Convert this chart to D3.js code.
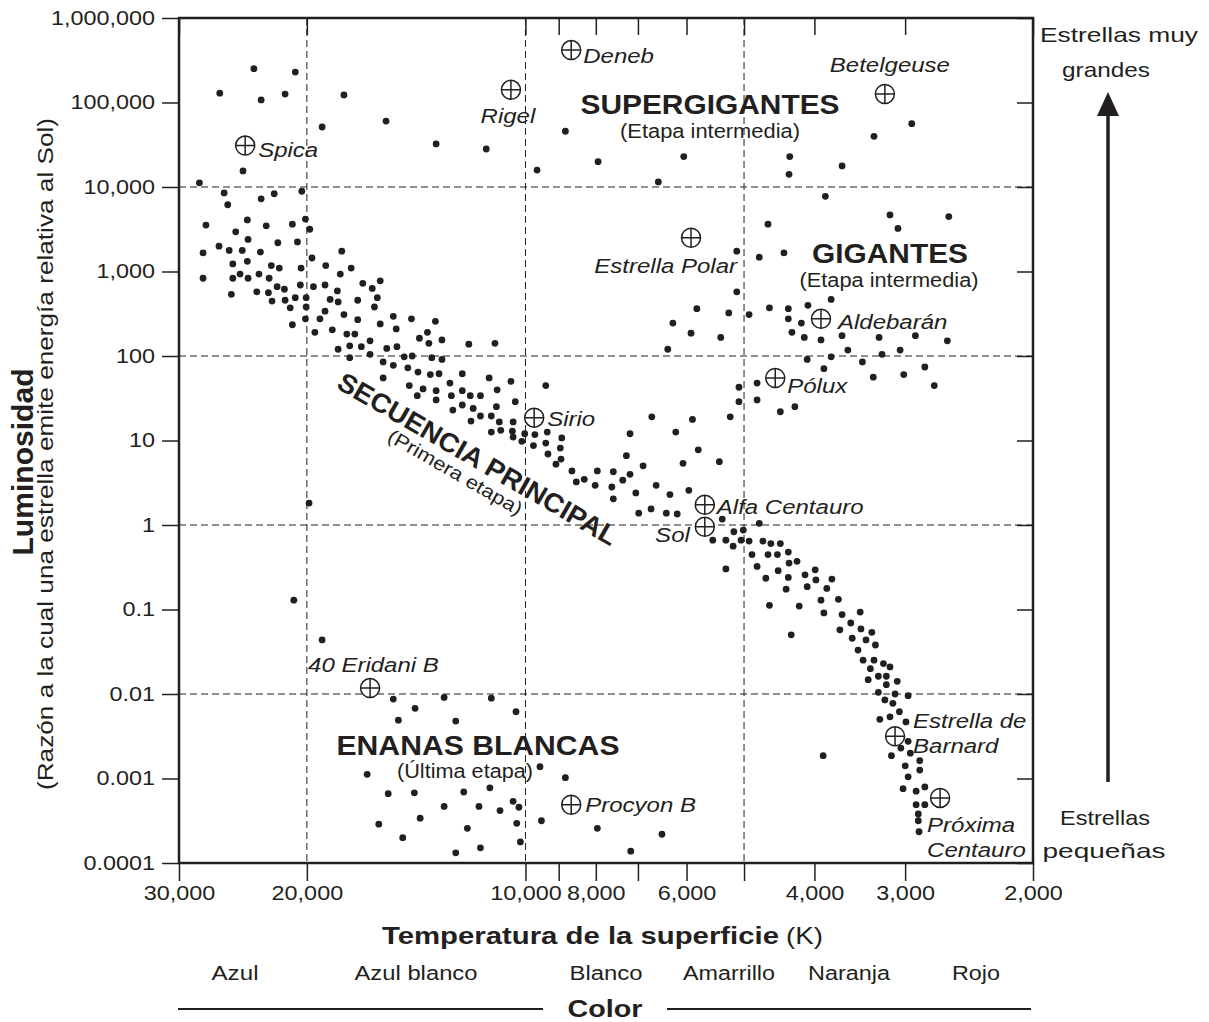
<!DOCTYPE html>
<html>
<head>
<meta charset="utf-8">
<script src="https://cdnjs.cloudflare.com/ajax/libs/d3/7.8.5/d3.min.js"></script>
<style>
body { margin: 0; background: #fff; }
svg text { font-family: "Liberation Sans", Arial, Helvetica, sans-serif; fill: #231f20; }
</style>
</head>
<body>
<div id="chart"></div>
<script>
// Data --------------------------------------------------------------------------------------------
// every star is [log10 temperature (K), log10 luminosity (Sun = 1)]
const supergiants = [
  [4.421,5.11],[4.374,5.40],[4.364,5.03],[4.331,5.10],[4.317,5.36],[4.280,4.71],[4.250,5.09],[4.192,4.78],
  [4.123,4.51],[4.054,4.45],[3.984,4.20],[3.945,4.66],[3.900,4.30],[3.782,4.36],[3.817,4.06],[3.636,4.36],
  [3.637,4.15],[3.564,4.25],[3.520,4.60],[3.468,4.75],[3.587,3.89],[4.389,4.19],[4.449,4.05]
];

const giants = [
  [3.498,3.67],[3.487,3.51],[3.417,3.65],[3.666,3.56],[3.678,3.17],[3.644,3.22],[3.709,3.24],[3.709,2.76],
  [3.579,2.67],[3.611,2.60],[3.638,2.56],[3.664,2.57],[3.692,2.49],[3.720,2.51],[3.764,2.56],[3.797,2.39],
  [3.772,2.27],[3.731,2.22],[3.804,2.08],[3.638,2.44],[3.620,2.39],[3.633,2.28],[3.616,2.22],[3.593,2.19],
  [3.564,2.24],[3.513,2.22],[3.463,2.24],[3.419,2.18],[3.556,2.07],[3.509,2.02],[3.484,2.07],[3.612,1.96],
  [3.579,1.99],[3.536,1.93],[3.589,1.85],[3.521,1.75],[3.479,1.78],[3.450,1.87],[3.437,1.65],[3.681,1.68],
  [3.706,1.63],[3.706,1.46],[3.681,1.48],[3.629,1.40],[3.649,1.34],[3.826,1.28],[3.770,1.25],[3.718,1.28],
  [3.856,1.08],[3.793,1.10],[3.762,0.89],[3.861,0.82],[3.838,0.70],[3.783,0.73],[3.733,0.75]
];

const mainSequence = [
  [4.415,3.93],[4.410,3.79],[4.364,3.86],[4.346,3.92],[4.308,3.95],[4.440,3.55],[4.383,3.61],[4.399,3.47],
  [4.357,3.54],[4.321,3.56],[4.303,3.62],[4.297,3.50],[4.382,3.38],[4.341,3.34],[4.314,3.35],[4.444,3.22],
  [4.422,3.30],[4.408,3.25],[4.390,3.25],[4.365,3.23],[4.253,3.24],[4.403,3.09],[4.383,3.12],[4.350,3.07],
  [4.339,3.04],[4.309,3.04],[4.294,3.16],[4.275,3.07],[4.240,3.04],[4.255,2.97],[4.444,2.92],[4.403,2.92],
  [4.393,2.97],[4.382,2.92],[4.367,2.97],[4.353,2.92],[4.405,2.73],[4.370,2.76],[4.354,2.75],[4.342,2.82],
  [4.332,2.79],[4.349,2.65],[4.331,2.66],[4.317,2.69],[4.310,2.84],[4.302,2.69],[4.324,2.57],[4.302,2.58],
  [4.303,2.44],[4.321,2.37],[4.292,2.82],[4.276,2.84],[4.259,2.77],[4.269,2.67],[4.258,2.64],[4.276,2.53],
  [4.283,2.44],[4.290,2.28],[4.266,2.31],[4.250,2.49],[4.231,2.66],[4.224,2.86],[4.211,2.80],[4.200,2.89],
  [4.204,2.69],[4.208,2.58],[4.231,2.43],[4.200,2.38],[4.182,2.47],[4.178,2.32],[4.246,2.26],[4.235,2.26],
  [4.214,2.18],[4.258,2.08],[4.242,2.12],[4.226,2.11],[4.214,2.02],[4.191,2.09],[4.177,2.11],[4.167,1.99],
  [4.242,1.98],
  [4.157,2.44],[4.124,2.41],[4.135,2.28],[4.146,2.21],[4.133,2.15],[4.115,2.19],[4.078,2.14],[4.042,2.15],
  [4.156,2.00],[4.129,1.98],[4.115,1.96],[4.196,1.93],[4.182,1.89],[4.162,1.86],[4.148,1.81],[4.131,1.78],
  [4.119,1.79],[4.087,1.79],[4.050,1.74],[4.020,1.70],[3.972,1.65],[4.196,1.74],[4.160,1.65],[4.141,1.61],
  [4.123,1.59],[4.104,1.68],[4.087,1.59],[4.076,1.53],[4.062,1.53],[4.039,1.60],[4.149,1.53],[4.123,1.48],
  [4.102,1.53],[4.087,1.42],[4.100,1.36],[4.072,1.38],[4.040,1.40],[4.014,1.46],[4.062,1.29],[4.075,1.23],
  [4.047,1.29],[4.036,1.22],[4.017,1.22],[4.047,1.10],[4.034,1.12],[4.018,1.11],[4.017,1.04],[4.005,0.99],
  [4.001,1.08],[3.987,1.07],[3.970,1.10],[3.989,0.94],[3.972,0.97],[3.950,1.03],[3.952,0.91],[3.969,0.84],
  [3.951,0.78],[3.958,0.72],[3.936,0.64],[3.901,0.64],[3.930,0.51],[3.919,0.54],[3.904,0.47],
  [3.879,0.63],[3.856,0.60],[3.866,0.53],[3.881,0.45],[3.848,0.38],[3.820,0.47],[3.801,0.36],[3.775,0.41],
  [3.879,0.31],[3.844,0.14],[3.827,0.19],[3.806,0.14],[3.791,0.13],[3.729,0.07],[3.678,0.02],[3.713,-0.08],
  [3.700,-0.06],[3.742,-0.18],[3.724,-0.18],[3.714,-0.25],[3.703,-0.18],[3.692,-0.19],[3.673,-0.19],[3.662,-0.22],
  [3.649,-0.22],[3.688,-0.35],[3.666,-0.35],[3.653,-0.35],[3.638,-0.32],[3.626,-0.43],[3.637,-0.45],[3.681,-0.49],
  [3.652,-0.54],[3.724,-0.52],[3.669,-0.63],[3.638,-0.62],[3.615,-0.59],[3.641,-0.76],[3.612,-0.73],
  [3.601,-0.53],[3.600,-0.65],[3.578,-0.64],[3.585,-0.75],[3.664,-0.95],[3.623,-0.96],[3.593,-0.89],[3.569,-0.88],
  [3.589,-1.04],[3.564,-1.06],[3.539,-1.03],[3.552,-1.16],[3.567,-1.24],[3.538,-1.23],[3.523,-1.27],[3.550,-1.34],
  [3.531,-1.36],[3.518,-1.42],[3.634,-1.30],[3.542,-1.48],[3.535,-1.60],[3.520,-1.60],[3.507,-1.64],[3.498,-1.68],
  [3.525,-1.70],[3.514,-1.79],[3.503,-1.79],[3.528,-1.83],[3.503,-1.89],[3.488,-1.85],[3.514,-1.98],[3.491,-2.00],
  [3.473,-2.02],[3.505,-2.07],[3.494,-2.11],[3.485,-2.21],[3.498,-2.27],[3.512,-2.30],
  [3.476,-2.33],[3.473,-2.56],[3.483,-2.64],[3.470,-2.70],[3.496,-2.73],[3.457,-2.79],[3.477,-2.85],[3.457,-2.90],
  [3.473,-2.98],[3.480,-3.12],[3.462,-3.15],[3.450,-3.10],[3.462,-3.31],[3.450,-3.31],[3.459,-3.42],[3.459,-3.50],
  [3.458,-3.63]
];

const whiteDwarfs = [
  [4.182,-2.06],[4.152,-2.17],[4.112,-2.04],[4.047,-2.05],[4.175,-2.31],[4.096,-2.32],[4.013,-2.21],[4.218,-2.95],
  [3.980,-2.86],[3.945,-2.99],[4.189,-3.18],[4.153,-3.17],[4.085,-3.16],[4.049,-3.11],[4.017,-3.27],[4.112,-3.33],
  [4.064,-3.33],[4.009,-3.34],[4.145,-3.47],[4.035,-3.38],[3.978,-3.50],[4.202,-3.54],[4.080,-3.59],[4.012,-3.53],
  [4.169,-3.70],[4.062,-3.82],[4.007,-3.75],[4.096,-3.88],[3.901,-3.59],[3.855,-3.86],[3.812,-3.66]
];

const otherStars = [[4.298,0.26],[4.319,-0.89],[4.280,-1.36],[3.590,-2.73]];

const namedStars = [
  {name: "Spica", t: 4.386, l: 4.49},
  {name: "Rigel", t: 4.020, l: 5.15},
  {name: "Deneb", t: 3.937, l: 5.62},
  {name: "Betelgeuse", t: 3.505, l: 5.10},
  {name: "Estrella Polar", t: 3.772, l: 3.40},
  {name: "Aldebarán", t: 3.593, l: 2.44},
  {name: "Pólux", t: 3.656, l: 1.74},
  {name: "Sirio", t: 3.988, l: 1.27},
  {name: "Alfa Centauro", t: 3.753, l: 0.24},
  {name: "Sol", t: 3.753, l: -0.02},
  {name: "40 Eridani B", t: 4.214, l: -1.93},
  {name: "Procyon B", t: 3.937, l: -3.31},
  {name: "Estrella de Barnard", t: 3.491, l: -2.50},
  {name: "Próxima Centauro", t: 3.429, l: -3.23}
];

const tempTicks = [30000, 20000, 10000, 9000, 8000, 7000, 6000, 5000, 4000, 3000, 2000];
const tempLabels = ["30,000", "20,000", "10,000", "", "8,000", "", "6,000", "", "4,000", "3,000", "2,000"];
const lumTicks = [1e-4, 1e-3, 1e-2, 1e-1, 1, 10, 100, 1e3, 1e4, 1e5, 1e6];
const lumLabels = ["0.0001", "0.001", "0.01", "0.1", "1", "10", "100", "1,000", "10,000", "100,000", "1,000,000"];
const tempGrid = [20000, 10000, 5000];
const lumGrid = [1e4, 100, 1, 0.01];
const colorBands = ["Azul", "Azul blanco", "Blanco", "Amarrillo", "Naranja", "Rojo"];

// Layout ------------------------------------------------------------------------------------------
const width = 1209, height = 1022;
const plot = {left: 179, right: 1033, top: 18, bottom: 863};
const ink = "#231f20";

const svg = d3.select("#chart").append("svg")
  .attr("width", width)
  .attr("height", height);

const x = d3.scaleLog().domain([30000, 2000]).range([plot.left, plot.right]);
const y = d3.scaleLog().domain([1e-4, 1e6]).range([plot.bottom, plot.top]);
const px = d => x(10 ** d[0]);
const py = d => y(10 ** d[1]);

// stretch text horizontally (the original lettering is wider than Arial)
const stretch = (sel, k) => sel.each(function() {
  const w = this.getComputedTextLength();
  if (w > 0) d3.select(this).attr("textLength", w * k).attr("lengthAdjust", "spacingAndGlyphs");
});
const fit = (sel, w) => sel.attr("textLength", w).attr("lengthAdjust", "spacingAndGlyphs");

// Grid --------------------------------------------------------------------------------------------
const grid = svg.append("g").attr("stroke", ink).attr("stroke-width", 1).attr("stroke-dasharray", "7,4");
grid.selectAll(".vg").data(tempGrid).join("line")
  .attr("x1", d => x(d)).attr("x2", d => x(d)).attr("y1", plot.top).attr("y2", plot.bottom);
grid.selectAll(".hg").data(lumGrid).join("line")
  .attr("x1", plot.left).attr("x2", plot.right).attr("y1", d => y(d)).attr("y2", d => y(d));

// Axes --------------------------------------------------------------------------------------------
const styleAxis = g => {
  g.select(".domain").remove();
  g.selectAll(".tick line").attr("stroke", ink).attr("stroke-width", 1.5);
  g.selectAll(".tick text").attr("fill", ink).style("font-size", "19.5px")
    .style("font-family", "'Liberation Sans', Arial, sans-serif");
};

const xBottom = svg.append("g").attr("transform", `translate(0,${plot.bottom})`)
  .call(d3.axisBottom(x).tickValues(tempTicks).tickSize(18).tickPadding(5)
    .tickFormat((d, i) => tempLabels[i]))
  .call(styleAxis);
stretch(xBottom.selectAll(".tick text"), 1.2);

svg.append("g").attr("transform", `translate(0,${plot.top})`)
  .call(d3.axisTop(x).tickValues(tempTicks).tickSize(-17).tickFormat(""))
  .call(styleAxis);

const yLeft = svg.append("g").attr("transform", `translate(${plot.left},0)`)
  .call(d3.axisLeft(y).tickValues(lumTicks).tickSize(17).tickPadding(7)
    .tickFormat((d, i) => lumLabels[i]))
  .call(styleAxis);
stretch(yLeft.selectAll(".tick text"), 1.2);

svg.append("g").attr("transform", `translate(${plot.right},0)`)
  .call(d3.axisRight(y).tickValues(lumTicks).tickSize(-16).tickFormat(""))
  .call(styleAxis);

// Frame
svg.append("rect")
  .attr("x", plot.left).attr("y", plot.top)
  .attr("width", plot.right - plot.left).attr("height", plot.bottom - plot.top)
  .attr("fill", "none").attr("stroke", ink).attr("stroke-width", 2.5);

// Stars -------------------------------------------------------------------------------------------
const allStars = [...supergiants, ...giants, ...mainSequence, ...whiteDwarfs, ...otherStars];
svg.append("g").selectAll("circle").data(allStars).join("circle")
  .attr("cx", px).attr("cy", py).attr("r", 3.4).attr("fill", ink);

// Named stars: circled cross
const labelLayout = {
  "Spica": {dx: 13, dy: 11, anchor: "start"},
  "Rigel": {dx: -3, dy: 33, anchor: "middle"},
  "Deneb": {dx: 12, dy: 13, anchor: "start"},
  "Betelgeuse": {dx: 5, dy: -22, anchor: "middle"},
  "Estrella Polar": {dx: 46, dy: 35, anchor: "end"},
  "Aldebarán": {dx: 17, dy: 10, anchor: "start"},
  "Pólux": {dx: 12, dy: 15, anchor: "start"},
  "Sirio": {dx: 13, dy: 8, anchor: "start"},
  "Alfa Centauro": {dx: 12, dy: 9, anchor: "start"},
  "Sol": {dx: -15, dy: 15, anchor: "end"},
  "40 Eridani B": {dx: -62, dy: -16, anchor: "start"},
  "Procyon B": {dx: 14, dy: 7, anchor: "start"},
  "Estrella de Barnard": {dx: 18, dy: -8, anchor: "start", lines: ["Estrella de", "Barnard"]},
  "Próxima Centauro": {dx: -13, dy: 34, anchor: "start", lines: ["Próxima", "Centauro"]}
};

const named = svg.append("g").selectAll("g").data(namedStars).join("g")
  .attr("transform", d => `translate(${px([d.t, d.l])},${py([d.t, d.l])})`);

named.append("circle").attr("r", 9.5)
  .attr("fill", "#fff").attr("stroke", ink).attr("stroke-width", 1.5);
named.append("path").attr("d", "M-9.5,0H9.5M0,-9.5V9.5")
  .attr("stroke", ink).attr("stroke-width", 1.5);

named.each(function(d) {
  const lay = labelLayout[d.name];
  const lines = lay.lines || [d.name];
  lines.forEach((t, i) => {
    d3.select(this).append("text")
      .attr("x", lay.dx).attr("y", lay.dy + i * 25)
      .attr("text-anchor", lay.anchor)
      .style("font-size", "20px").style("font-style", "italic")
      .text(t)
      .call(stretch, 1.2);
  });
});

// Region labels -----------------------------------------------------------------------------------
const addText = (txt, xx, yy, size, opts = {}) => {
  const t = svg.append("text")
    .attr("x", xx).attr("y", yy)
    .attr("text-anchor", opts.anchor || "middle")
    .style("font-size", size + "px")
    .style("font-weight", opts.bold ? "bold" : "normal")
    .text(txt);
  if (opts.rotate !== undefined) t.attr("transform", `rotate(${opts.rotate},${xx},${yy})`);
  if (opts.width) fit(t, opts.width);
  return t;
};

addText("SUPERGIGANTES", 710, 114, 28, {bold: true, width: 259});
addText("(Etapa intermedia)", 710, 138, 19.5, {width: 180});
addText("GIGANTES", 890, 263, 28, {bold: true, width: 156});
addText("(Etapa intermedia)", 889, 287, 19.5, {width: 179});
addText("ENANAS BLANCAS", 478, 755, 28, {bold: true, width: 283});
addText("(Última etapa)", 465, 778, 19.5, {width: 136});
addText("SECUENCIA PRINCIPAL", 473, 467, 27, {bold: true, rotate: 30, width: 318});
addText("(Primera etapa)", 452, 478, 19, {rotate: 30, width: 152});

// Axis titles -------------------------------------------------------------------------------------
addText("Luminosidad", 33, 462, 29, {bold: true, rotate: -90, width: 187});
addText("(Razón a la cual una estrella emite energía relativa al Sol)", 53, 454, 22, {rotate: -90, width: 672});

addText("Temperatura de la superficie", 779, 944, 24, {bold: true, anchor: "end", width: 397});
addText("(K)", 786, 944, 24, {anchor: "start", width: 37});

const colorCenters = [235, 416, 606, 729, 849, 976];
const colorWidths = [47, 123, 73, 92, 82, 48];
colorBands.forEach((c, i) => addText(c, colorCenters[i], 980, 20, {width: colorWidths[i]}));

addText("Color", 605, 1017, 24, {bold: true, width: 75});
svg.append("line").attr("x1", 178).attr("x2", 543).attr("y1", 1009).attr("y2", 1009)
  .attr("stroke", ink).attr("stroke-width", 2);
svg.append("line").attr("x1", 667).attr("x2", 1031).attr("y1", 1009).attr("y2", 1009)
  .attr("stroke", ink).attr("stroke-width", 2);

// Size arrow --------------------------------------------------------------------------------------
addText("Estrellas muy", 1119, 42, 21, {width: 158});
addText("grandes", 1106, 77, 21, {width: 88});
addText("Estrellas", 1105, 825, 21, {width: 90});
addText("pequeñas", 1104, 858, 21, {width: 123});

svg.append("line").attr("x1", 1108).attr("x2", 1108).attr("y1", 782).attr("y2", 112)
  .attr("stroke", ink).attr("stroke-width", 3.5);
svg.append("path").attr("d", "M1108,92L1119,116L1097,116Z").attr("fill", ink);
</script>
</body>
</html>
